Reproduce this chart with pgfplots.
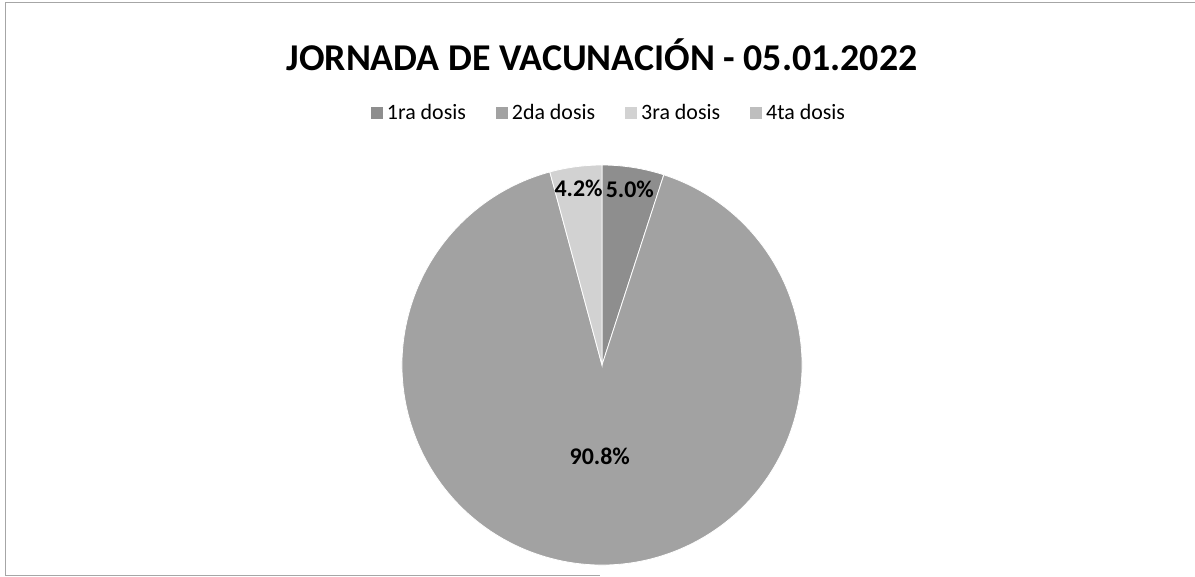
\documentclass[border=0pt]{standalone}
\usepackage{pgfplots}
\pgfplotsset{compat=1.18}
\usepackage{fontspec}
\setmainfont{Carlito}
\definecolor{cA}{HTML}{8E8E8E}
\definecolor{cB}{HTML}{A2A2A2}
\definecolor{cC}{HTML}{D2D2D2}
\definecolor{cD}{HTML}{BEBEBE}
\begin{document}
\begin{tikzpicture}
% data (percent)
\def\vA{5.0}\def\vB{90.8}\def\vC{4.2}\def\vD{0.0}
\pgfmathsetmacro\aZ{90}
\pgfmathsetmacro\aA{\aZ-3.6*\vA}
\pgfmathsetmacro\aB{\aA-3.6*\vB}
\pgfmathsetmacro\aC{\aB-3.6*\vC}
\pgfmathsetmacro\mA{(\aZ+\aA)/2}
\pgfmathsetmacro\mB{(\aA+\aB)/2}
\pgfmathsetmacro\mC{(\aB+\aC)/2}
\path[use as bounding box] (0,0) rectangle (597.5bp,288.5bp);
\draw[gray!70, line width=0.4bp] (597.5bp,287.5bp) -- (2.5bp,287.5bp) -- (2.5bp,1bp) -- (300bp,1bp);
\node[font=\fontsize{19}{22}\selectfont\bfseries] at (301bp,261bp) {JORNADA DE VACUNACIÓN - 05.01.2022};
\begin{axis}[
  at={(301bp,106bp)}, anchor=center,
  width=200bp, height=200bp, scale only axis,
  xmin=-1, xmax=1, ymin=-1, ymax=1,
  hide axis, clip=false,
  legend columns=4,
  legend style={at={(axis description cs:0.52,1.13)}, anchor=center,
    draw=none, fill=none, inner sep=0pt,
    font=\fontsize{11}{13}\selectfont,
    /tikz/every even column/.append style={column sep=13bp}},
  legend image code/.code={\fill[#1] (0bp,-3bp) rectangle (6bp,3bp);},
]
\addlegendimage{fill=cA, draw=none}
\addlegendentry{1ra dosis}
\addlegendimage{fill=cB, draw=none}
\addlegendentry{2da dosis}
\addlegendimage{fill=cC, draw=none}
\addlegendentry{3ra dosis}
\addlegendimage{fill=cD, draw=none}
\addlegendentry{4ta dosis}
\fill[cA, draw=white, line width=0.4bp] (axis cs:0,0) -- ++(\aZ:100bp) arc[start angle=\aZ, end angle=\aA, radius=100bp] -- cycle;
\fill[cB, draw=white, line width=0.4bp] (axis cs:0,0) -- ++(\aA:100bp) arc[start angle=\aA, end angle=\aB, radius=100bp] -- cycle;
\fill[cC, draw=white, line width=0.4bp] (axis cs:0,0) -- ++(\aB:100bp) arc[start angle=\aB, end angle=\aC, radius=100bp] -- cycle;
\node[font=\fontsize{12}{14}\selectfont\bfseries] at (axis cs:0,0) [shift={(\mA:89bp)}] {5.0\%};
\node[font=\fontsize{12}{14}\selectfont\bfseries] at (axis cs:0,0) [shift={(\mC:89bp)}] {4.2\%};
\node[font=\fontsize{12}{14}\selectfont\bfseries] at (axis cs:0,0) [shift={(\mB:45.5bp)}] {90.8\%};
\end{axis}
\end{tikzpicture}
\end{document}
